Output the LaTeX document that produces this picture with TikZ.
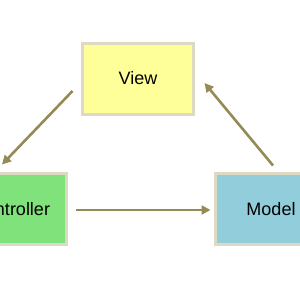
\documentclass[tikz,border=0pt]{standalone}
\usepackage{fontspec}
\setmainfont{Liberation Sans}
\usepackage{tikz}
\usetikzlibrary{arrows.meta, calc, positioning}

\definecolor{boxline}{HTML}{DDD9C3}
\definecolor{viewfill}{HTML}{FFFF99}
\definecolor{ctrlfill}{HTML}{80E27B}
\definecolor{modelfill}{HTML}{92CDDC}
\definecolor{flowcol}{HTML}{948A54}

\begin{document}
\begin{tikzpicture}[x=1pt, y=1pt,
    mvcbox/.style={draw=boxline, line width=3pt, minimum width=111pt, minimum height=71pt,
        inner sep=0pt, font=\fontsize{18}{21}\selectfont},
    flow/.style={draw=flowcol, line width=2.6pt, -{Triangle[length=9pt, width=9pt]}}]
    \useasboundingbox (0,0) rectangle (300,300);
    % the three parts
    \node[mvcbox, fill=viewfill] (view) at (138,221) {\raisebox{3pt}{View}};
    \node[mvcbox, fill=ctrlfill] (ctrl) at (11,90.5) {\raisebox{1pt}{Controller}};
    \node[mvcbox, fill=modelfill] (model) at (271,90.5) {\raisebox{1pt}{Model}};
    % cycle of arrows
    \draw[flow] ([shift={(-8.5,-12)}]view.west) -- ([shift={(-9,8)}]ctrl.north);
    \draw[flow] ([shift={(7.5,-0.5)}]ctrl.east) -- ([shift={(-3.5,-0.5)}]model.west);
    \draw[flow] ([shift={(2,7)}]model.north) -- ([shift={(9.5,-4)}]view.east);
\end{tikzpicture}
\end{document}
